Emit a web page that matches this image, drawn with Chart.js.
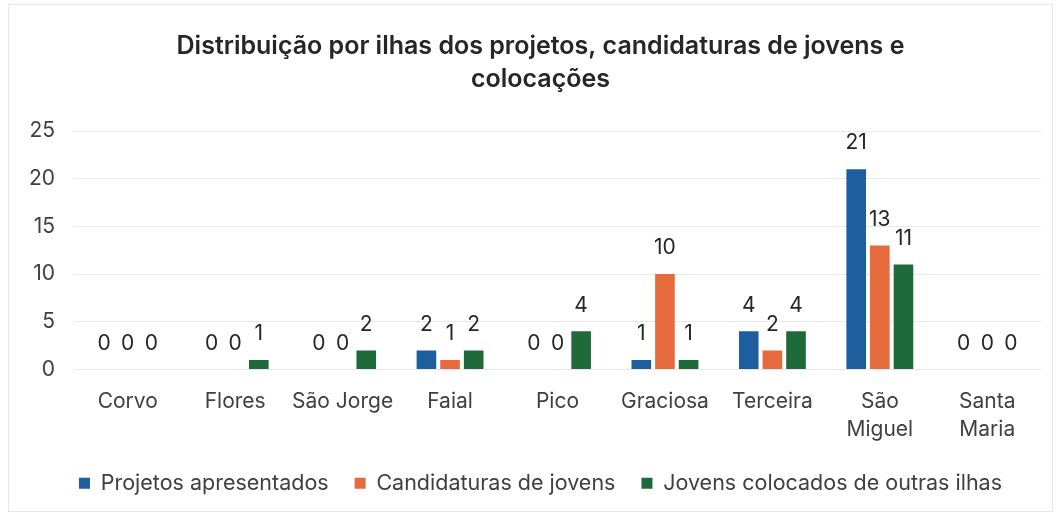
<!DOCTYPE html>
<html>
<head>
<meta charset="utf-8">
<script src="https://cdn.jsdelivr.net/npm/chart.js@4.4.1/dist/chart.umd.min.js"></script>
<style>
html,body{margin:0;padding:0;background:#fff;}
#wrap{position:relative;width:1061px;height:518px;}
#frame{position:absolute;left:8px;top:4px;width:1045px;height:508px;border:1px solid #e6e6e6;box-sizing:border-box;pointer-events:none;}
</style>
</head>
<body>
<div id="wrap">
<canvas id="c" width="1061" height="518"></canvas>
<div id="frame"></div>
</div>
<script>
const categories = ["Corvo","Flores","São Jorge","Faial","Pico","Graciosa","Terceira",["São","Miguel"],["Santa","Maria"]];
const projetos = [0,0,0,2,0,1,4,21,0];
const candidaturas = [0,0,0,1,0,10,2,13,0];
const colocados = [0,1,2,2,4,1,4,11,0];
const seriesNames = ["Projetos apresentados","Candidaturas de jovens","Jovens colocados de outras ilhas"];
const yTicks = [0,5,10,15,20,25];
const colors = ["#1f5e9e","#e66a3c","#1e6a3b"];
const FONT = "Inter, Roboto, 'Liberation Sans', sans-serif";

const labelPlugin = {
  id: 'barLabels',
  afterLayout(chart){
    // let the y tick labels use the space left of the axis box (avoid clipping)
    chart.scales.y.left = 12;
  },
  afterDatasetsDraw(chart){
    const ctx = chart.ctx;
    ctx.save();
    ctx.font = "21px " + FONT;
    ctx.fillStyle = "#262626";
    ctx.textAlign = "center";
    ctx.textBaseline = "middle";
    chart.data.datasets.forEach((ds,i)=>{
      const meta = chart.getDatasetMeta(i);
      meta.data.forEach((el,j)=>{
        ctx.fillText(String(ds.data[j]), el.x, el.y - 26);
      });
    });
    ctx.restore();
  }
};

new Chart(document.getElementById('c'), {
  type: 'bar',
  data: {
    labels: categories,
    datasets: [
      {label: seriesNames[0], data: projetos, backgroundColor: colors[0]},
      {label: seriesNames[1], data: candidaturas, backgroundColor: colors[1]},
      {label: seriesNames[2], data: colocados, backgroundColor: colors[2]}
    ]
  },
  options: {
    responsive: false,
    animation: false,
    devicePixelRatio: 1,
    layout: {padding: {left: 40, right: 20, top: 30, bottom: 14}},
    datasets: {bar: {categoryPercentage: 0.66, barPercentage: 0.83}},
    plugins: {
      title: {
        display: true,
        text: ["Distribuição por ilhas dos projetos, candidaturas de jovens e","colocações"],
        font: {family: FONT, size: 25, weight: '600', lineHeight: 1.32},
        color: "#262626",
        padding: {top: 0, bottom: 35}
      },
      legend: {
        position: 'bottom',
        labels: {
          font: {family: FONT, size: 21.5},
          color: "#404040",
          boxWidth: 11,
          boxHeight: 11,
          padding: 26
        }
      },
      tooltip: {enabled: false}
    },
    scales: {
      x: {
        grid: {display: false, drawTicks: false},
        border: {display: false},
        ticks: {font: {family: FONT, size: 21, lineHeight: 1.33}, color: "#404040", padding: 18, maxRotation: 0, autoSkip: false},
        afterFit(scale){ scale.height = 77; }
      },
      y: {
        min: 0, max: 25,
        afterBuildTicks(axis){ axis.ticks = yTicks.map(v=>({value:v})); },
        grid: {color: "#e8e8e8", drawTicks: false},
        border: {display: false},
        ticks: {font: {family: FONT, size: 21}, color: "#404040", padding: 19},
        afterFit(scale){ scale.width = 34; }
      }
    }
  },
  plugins: [labelPlugin]
});
</script>
</body>
</html>
